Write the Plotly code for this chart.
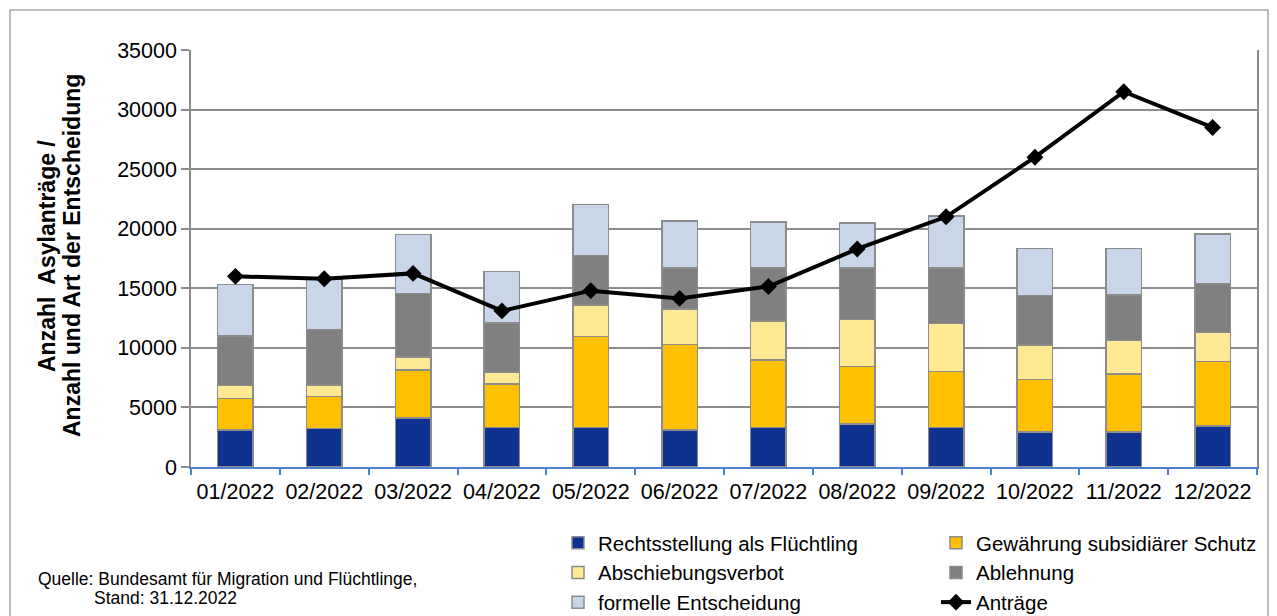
import plotly.graph_objects as go

months = ["01/2022", "02/2022", "03/2022", "04/2022", "05/2022", "06/2022",
          "07/2022", "08/2022", "09/2022", "10/2022", "11/2022", "12/2022"]
rechtsstellung = [3100, 3250, 4100, 3300, 3300, 3100, 3300, 3600, 3300, 2950, 2950, 3450]
subsidiaer = [2650, 2650, 4050, 3650, 7650, 7200, 5700, 4850, 4700, 4400, 4850, 5400]
abschiebungsverbot = [1100, 1000, 1100, 1000, 2650, 2950, 3250, 3950, 4050, 2900, 2800, 2450]
ablehnung = [4150, 4650, 5300, 4150, 4150, 3450, 4500, 4300, 4650, 4150, 3850, 4100]
formell = [4300, 4250, 4950, 4300, 4300, 3950, 3800, 3800, 4350, 3950, 3900, 4150]
antraege = [16000, 15800, 16250, 13100, 14800, 14150, 15150, 18300, 21000, 26000, 31500, 28500]

series = [
    ("Rechtsstellung als Flüchtling", rechtsstellung, "#0F3190", "legend"),
    ("Gewährung subsidiärer Schutz", subsidiaer, "#FFC000", "legend2"),
    ("Abschiebungsverbot", abschiebungsverbot, "#FFE993", "legend"),
    ("Ablehnung", ablehnung, "#808080", "legend2"),
    ("formelle Entscheidung", formell, "#C9D5E8", "legend"),
]

FONT = "Liberation Sans, Arial, sans-serif"
fig = go.Figure()
for name, vals, col, leg in series:
    fig.add_trace(go.Bar(
        x=months, y=vals, name=name, legend=leg,
        marker=dict(color=col, line=dict(color="#8C8C8C", width=1.5)),
    ))
fig.add_trace(go.Scatter(
    x=months, y=antraege, name="Anträge", mode="lines+markers", legend="legend2",
    line=dict(color="black", width=4),
    marker=dict(symbol="diamond", size=13, color="black"),
))

# page body has an 8px margin: figure is placed at (8, 8) in the window
OFF = 8
W, H = 1277 - OFF, 616 - OFF
L, T = 191 - OFF, 50 - OFF
R, B = 20, 149
pw, ph = W - L - R, H - T - B


def px_x(v):
    return (v - OFF - L) / pw


def px_y(v):
    return (T + ph - (v - OFF)) / ph


leg_common = dict(
    orientation="v", xanchor="left", yanchor="top",
    traceorder="normal", font=dict(size=20.5, family=FONT),
    bgcolor="rgba(0,0,0,0)", tracegroupgap=0,
)

fig.update_layout(
    width=W, height=H,
    margin=dict(l=L, r=R, t=T, b=B, autoexpand=False),
    barmode="stack", bargap=0.6,
    plot_bgcolor="white", paper_bgcolor="white",
    font=dict(family=FONT, size=21.5, color="black"),
    showlegend=True,
    legend=dict(x=px_x(558), y=px_y(523), **leg_common),
    legend2=dict(x=px_x(936), y=px_y(523), **leg_common),
    xaxis=dict(
        range=[-0.5, len(months) - 0.5],
        showline=True, linecolor="#4F7FCF", linewidth=1.5,
        ticks="outside", tickson="boundaries", ticklen=6, tickcolor="#4F7FCF",
        tickwidth=1.5, showgrid=False, tickfont=dict(size=21.5),
        tickangle=0, automargin=False, ticklabelstandoff=4,
    ),
    yaxis=dict(
        range=[0, 35000], dtick=5000, tickformat="d", showgrid=True, gridcolor="#8C8C8C",
        gridwidth=1.5, showline=True, linecolor="#8C8C8C", linewidth=1.5,
        mirror=True, ticks="outside", ticklen=8, tickcolor="#8C8C8C", tickwidth=1.5,
        tickfont=dict(size=21.5), zeroline=False, automargin=False,
    ),
    shapes=[dict(type="rect", xref="paper", yref="paper",
                 x0=px_x(10), x1=px_x(1268),
                 y0=px_y(640), y1=px_y(10),
                 line=dict(color="#A6A6A6", width=1.5), layer="below")],
    annotations=[
        dict(xref="paper", yref="paper", x=px_x(47), y=px_y(256),
             xanchor="center", yanchor="middle", showarrow=False, textangle=-90,
             text="<b>Anzahl  Asylanträge /</b>", font=dict(size=23, family=FONT)),
        dict(xref="paper", yref="paper", x=px_x(72), y=px_y(256),
             xanchor="center", yanchor="middle", showarrow=False, textangle=-90,
             text="<b>Anzahl und Art der Entscheidung</b>", font=dict(size=23, family=FONT)),
        dict(xref="paper", yref="paper", x=px_x(36), y=px_y(579),
             xanchor="left", yanchor="middle", showarrow=False,
             text="Quelle: Bundesamt für Migration und Flüchtlinge,",
             font=dict(size=17.5, family=FONT)),
        dict(xref="paper", yref="paper", x=px_x(92), y=px_y(598),
             xanchor="left", yanchor="middle", showarrow=False,
             text="Stand: 31.12.2022", font=dict(size=17.5, family=FONT)),
    ],
)

fig.write_html("out.html")
